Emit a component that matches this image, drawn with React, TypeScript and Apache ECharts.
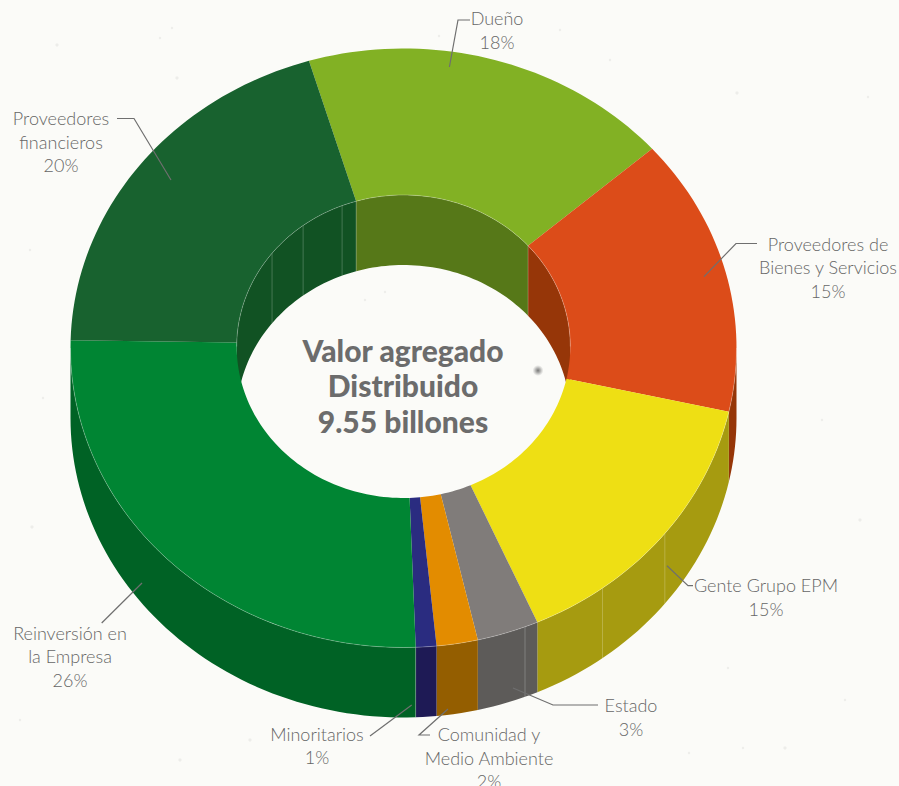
import React, { useEffect, useRef } from "react";
import * as echarts from "echarts";

// Share of distributed added value, per recipient, clockwise from the first slice.
const categories = [
  "Dueño",
  "Proveedores de Bienes y Servicios",
  "Gente Grupo EPM",
  "Estado",
  "Comunidad y Medio Ambiente",
  "Minoritarios",
  "Reinversión en la Empresa",
  "Proveedores financieros",
];
const shares = [18, 15, 15, 3, 2, 1, 26, 20];
const faceColors = ["#82B124", "#DC4C19", "#EEDF14", "#807C7A", "#E38C00", "#2A2C80", "#008533", "#18622F"];
const wallColors = ["#567818", "#963608", "#A69B10", "#5D5B59", "#945E00", "#1E1A55", "#006225", "#115223"];

// Facet seams of the extruded ring, as angles in degrees clockwise from the top.
const outerSeams = [128.3, 143.3, 158.6];
const innerSeams = [-52, -37, -21.6];

// Callouts: wrapped text per category, plus where each one sits.
const calloutLines = [
  ["Dueño"],
  ["Proveedores de", "Bienes y Servicios"],
  ["Gente Grupo EPM"],
  ["Estado"],
  ["Comunidad y", "Medio Ambiente"],
  ["Minoritarios"],
  ["Reinversión en", "la Empresa"],
  ["Proveedores", "financieros"],
];
const calloutAnchors = [
  [497, 30],
  [828, 267],
  [766, 597],
  [631, 717],
  [489, 757.5],
  [317, 745.5],
  [70, 656],
  [61, 141.5],
];
const leaderPaths = [
  [[449.4, 67], [458, 20], [470, 20]],
  [[704, 276.7], [736, 243.5], [757, 243.5]],
  [[667, 565.7], [688, 585.7], [693, 585.7]],
  [[513, 688], [553, 705], [598, 705]],
  [[448, 709], [419, 735], [430, 735]],
  [[411.7, 705], [370, 736]],
  [[142, 583], [101.7, 623]],
  [[171, 180], [134, 118.5], [117, 118.5]],
];

const centerTitle = ["Valor agregado", "Distribuido", "9.55 billones"];

// Faint flecks of the paper background.
const paperFlecks = [
  [57, 45], [160, 38], [172, 28], [177, 78], [439, 36], [43, 398], [32, 527], [728, 668],
  [743, 748], [785, 748], [689, 753], [868, 97], [737, 93], [365, 300], [385, 292], [180, 760],
  [610, 60], [822, 420], [860, 520], [30, 250], [845, 700], [250, 740], [560, 30], [20, 720],
];

// Ring geometry in page pixels.
const CX = 403.5;
const OUTER = { cy: 348, rx: 333, ry: 299.5 };
const INNER = { cy: 346.5, rx: 166.8, ry: 151.5 };
const DEPTH = 70;
const START_ANGLE = -16.5;
const TEXT_FONT = "Lato";
const ARC_STEP = 1.5;

type Ring = { cy: number; rx: number; ry: number };

const total = shares.reduce((a, b) => a + b, 0);
const sliceStart = (index: number) =>
  START_ANGLE + (shares.slice(0, index).reduce((a, b) => a + b, 0) / total) * 360;

function point(ring: Ring, deg: number, drop = 0): number[] {
  const t = (deg * Math.PI) / 180;
  return [CX + ring.rx * Math.sin(t), ring.cy - ring.ry * Math.cos(t) + drop];
}

function arc(ring: Ring, from: number, to: number, drop = 0): number[][] {
  const steps = Math.max(1, Math.ceil(Math.abs(to - from) / ARC_STEP));
  const pts: number[][] = [];
  for (let i = 0; i <= steps; i++) pts.push(point(ring, from + ((to - from) * i) / steps, drop));
  return pts;
}

// Wall band between a ring's arc and the same arc dropped by the extrusion depth.
function wallBand(ring: Ring, from: number, to: number): number[][] {
  return [...arc(ring, from, to), ...arc(ring, to, from, DEPTH)];
}

// Overlap of [from, to] with a visible window, also tried one turn later.
function clipToWindow(from: number, to: number, lo: number, hi: number): number[] | null {
  for (const turn of [0, 360]) {
    const a = Math.max(from + turn, lo);
    const b = Math.min(to + turn, hi);
    if (b > a) return [a, b];
  }
  return null;
}

const empty = { type: "group", children: [] };

function App() {
  const ref = useRef<HTMLDivElement>(null);

  useEffect(() => {
    document.body.style.margin = "0";
    document.body.style.background = "#FBFBF8";
    const chart = echarts.init(ref.current!, null, { renderer: "svg" });

    const calloutText = (i: number) => [...calloutLines[i], `${shares[i]}%`].join("\n");

    const graphic: any[] = [
      ...paperFlecks.map(([x, y], i) => ({
        type: "circle",
        silent: true,
        z: 0,
        shape: { cx: x, cy: y, r: i % 3 === 0 ? 1.6 : 1.2 },
        style: { fill: "rgba(120,120,115,0.1)" },
      })),
      {
        type: "circle",
        silent: true,
        z: 0,
        shape: { cx: 538, cy: 370.5, r: 5.5 },
        style: {
          fill: {
            type: "radial",
            x: 0.5,
            y: 0.5,
            r: 0.5,
            colorStops: [
              { offset: 0, color: "rgba(95,95,95,0.85)" },
              { offset: 0.45, color: "rgba(110,110,110,0.5)" },
              { offset: 1, color: "rgba(140,140,140,0)" },
            ],
          },
        },
      },
      ...leaderPaths.map((points) => ({
        type: "polyline",
        silent: true,
        z: 100,
        shape: { points },
        style: { stroke: "#6F6F6F", lineWidth: 1.2, fill: "none" },
      })),
      ...categories.map((_, i) => ({
        type: "text",
        silent: true,
        z: 101,
        style: {
          text: calloutText(i),
          x: calloutAnchors[i][0],
          y: calloutAnchors[i][1],
          align: "center",
          verticalAlign: "middle",
          fontFamily: TEXT_FONT,
          fontWeight: 300,
          fontSize: 18,
          lineHeight: 23.5,
          fill: "#666666",
        },
      })),
      {
        type: "text",
        silent: true,
        z: 101,
        style: {
          text: centerTitle.join("\n"),
          x: 403,
          y: 385,
          align: "center",
          verticalAlign: "middle",
          fontFamily: TEXT_FONT,
          fontWeight: 900,
          fontSize: 30,
          lineHeight: 35.5,
          fill: "#6C6C6C",
        },
      },
    ];

    const base = { type: "custom", coordinateSystem: "none", silent: true, clip: false, data: shares };
    // Slice boundaries carry a seam as well, so they follow the shares.
    const allOuterSeams = [...outerSeams, sliceStart(6)];
    const allInnerSeams = [...innerSeams, sliceStart(0), sliceStart(1)];

    chart.setOption({
      animation: false,
      backgroundColor: "#FBFBF8",
      graphic,
      series: [
        {
          ...base,
          name: "Pared interior",
          z: 1,
          renderItem: (p: any) => {
            const from = sliceStart(p.dataIndex);
            const span = clipToWindow(from, from + (shares[p.dataIndex] / total) * 360, 270, 450);
            if (!span) return empty;
            return {
              type: "polygon",
              shape: { points: wallBand(INNER, span[0], span[1]) },
              style: { fill: wallColors[p.dataIndex] },
            };
          },
        },
        {
          ...base,
          name: "Pared exterior",
          z: 2,
          renderItem: (p: any) => {
            const from = sliceStart(p.dataIndex);
            const span = clipToWindow(from, from + (shares[p.dataIndex] / total) * 360, 90, 270);
            if (!span) return empty;
            return {
              type: "polygon",
              shape: { points: wallBand(OUTER, span[0], span[1]) },
              style: { fill: wallColors[p.dataIndex] },
            };
          },
        },
        {
          ...base,
          name: "Costuras",
          z: 3,
          data: [...allOuterSeams, ...allInnerSeams],
          renderItem: (p: any) => {
            const isOuter = p.dataIndex < allOuterSeams.length;
            const deg = isOuter ? allOuterSeams[p.dataIndex] : allInnerSeams[p.dataIndex - allOuterSeams.length];
            const ring = isOuter ? OUTER : INNER;
            return {
              type: "polyline",
              shape: { points: [point(ring, deg), point(ring, deg, DEPTH)] },
              style: { stroke: "rgba(255,255,255,0.28)", lineWidth: 0.8, fill: "none" },
            };
          },
        },
        {
          ...base,
          name: "Valor agregado distribuido",
          z: 4,
          renderItem: (p: any) => {
            const from = sliceStart(p.dataIndex);
            const to = from + (shares[p.dataIndex] / total) * 360;
            return {
              type: "polygon",
              shape: { points: [...arc(OUTER, from, to), ...arc(INNER, to, from)] },
              style: { fill: faceColors[p.dataIndex] },
            };
          },
        },
        {
          ...base,
          name: "Bordes",
          z: 5,
          data: [0, 1],
          renderItem: (p: any) => ({
            type: "polyline",
            shape: { points: p.dataIndex === 0 ? arc(OUTER, 90, 270) : arc(INNER, -90, 90) },
            style: { stroke: "rgba(255,255,255,0.35)", lineWidth: 0.7, fill: "none" },
          }),
        },
      ],
    });

    return () => chart.dispose();
  }, []);

  return <div ref={ref} style={{ position: "absolute", left: 0, top: 0, width: 899, height: 786 }} />;
}

export default App;
